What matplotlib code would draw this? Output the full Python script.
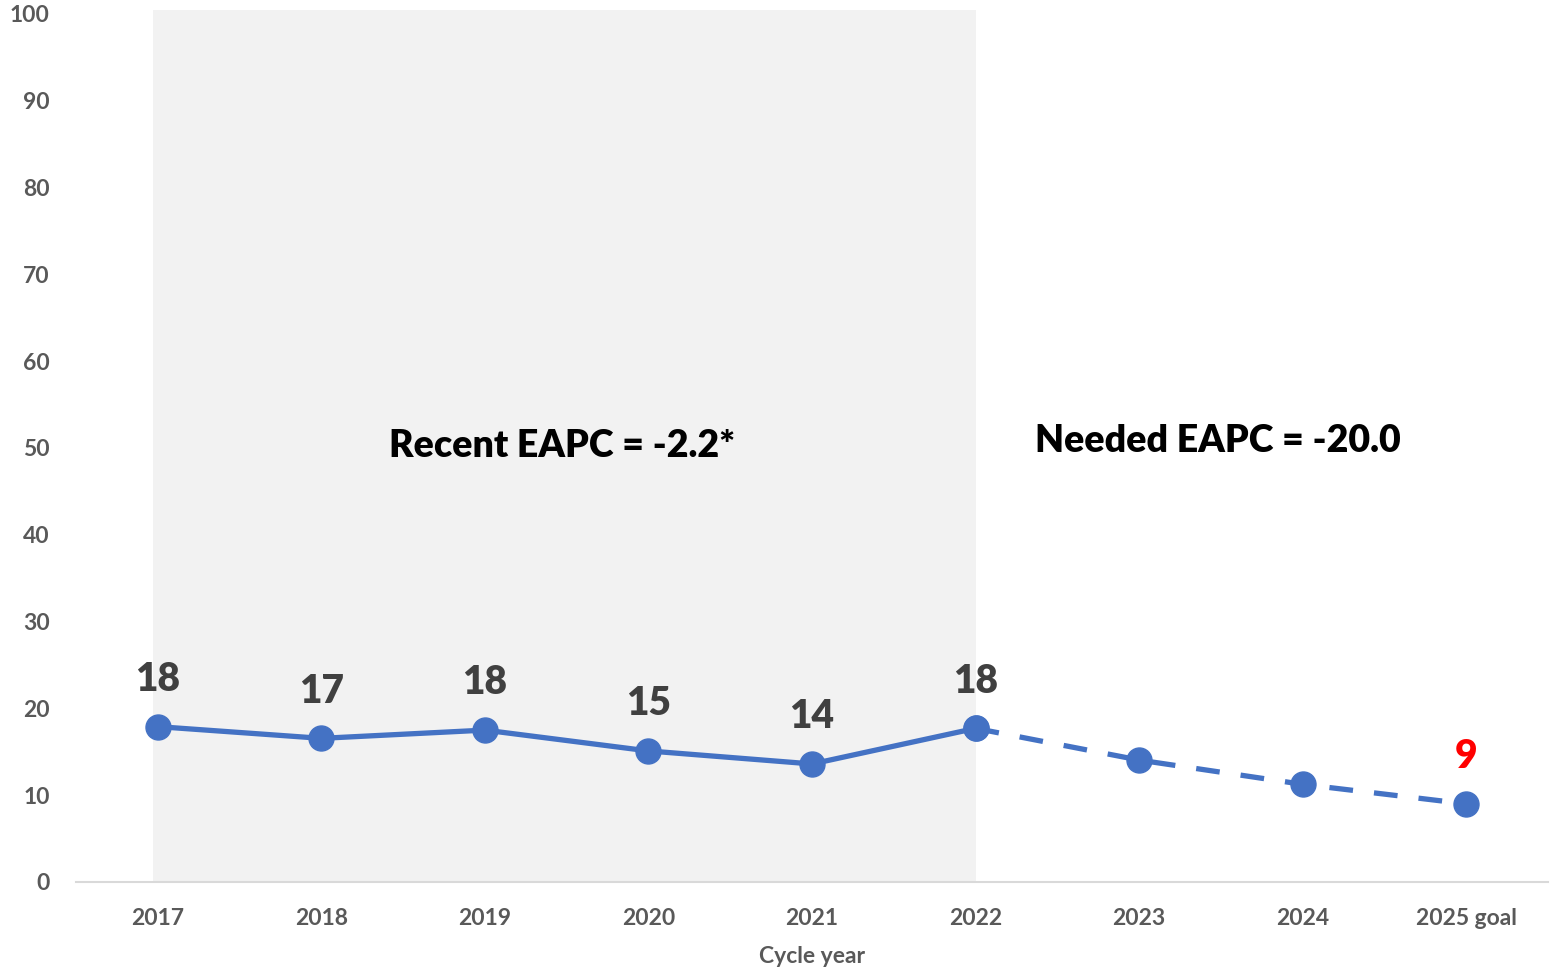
import matplotlib
matplotlib.use("Agg")
import matplotlib.pyplot as plt

plt.rcParams['font.family'] = ['Lato', 'DejaVu Sans']

years = ['2017', '2018', '2019', '2020', '2021', '2022', '2023', '2024', '2025 goal']
observed = [17.9, 16.55, 17.5, 15.1, 13.6, 17.7]
observed_labels = ['18', '17', '18', '15', '14', '18']
projected = [17.7, 14.05, 11.25, 9.0]
goal_label = '9'
recent_text = 'Recent EAPC = -2.2*'
needed_text = 'Needed EAPC = -20.0'

blue = '#4472C4'
grey_txt = '#595959'

fig = plt.figure(figsize=(15.52, 9.68), dpi=100)
ax = fig.add_axes([76 / 1552, 86 / 968, 1472 / 1552, 868 / 968])

x_obs = list(range(len(observed)))
x_proj = list(range(len(observed) - 1, len(years)))

# shaded "recent" period
ax.axvspan(-0.03, 5, ymin=0, ymax=1.005, color='#f2f2f2', zorder=0, clip_on=False, lw=0)

ax.plot(x_obs, observed, color=blue, lw=3.8, marker='o', ms=18, zorder=3)
ax.plot(x_proj, projected, color=blue, lw=3.8, ls=(0, (4.5, 4)), marker='o', ms=18,
        zorder=3, dash_capstyle='butt')

for x, y, lab in zip(x_obs, observed, observed_labels):
    ax.annotate(lab, (x, y), xytext=(0, 34), textcoords='offset points',
                ha='center', va='center', fontsize=28, fontweight='heavy', color='#404040')
ax.annotate(goal_label, (x_proj[-1], projected[-1]), xytext=(0, 34), textcoords='offset points',
            ha='center', va='center', fontsize=28, fontweight='heavy', color='#ff0000')

ax.text(2.47, 50.2, recent_text, ha='center', va='center', fontsize=27,
        fontweight='heavy', color='black')
ax.text(6.48, 50.8, needed_text, ha='center', va='center', fontsize=27,
        fontweight='heavy', color='black')

ax.set_xlim(-0.5, len(years) - 0.5)
ax.set_ylim(0, 100)
ax.set_xticks(range(len(years)))
ax.set_xticklabels(years)
ax.set_yticks(range(0, 101, 10))
ax.tick_params(axis='both', length=0, labelsize=16.5, labelcolor=grey_txt)
ax.tick_params(axis='y', pad=19)
ax.tick_params(axis='x', pad=19)
for lab in ax.get_xticklabels() + ax.get_yticklabels():
    lab.set_fontweight('bold')

for s in ['top', 'right', 'left']:
    ax.spines[s].set_visible(False)
ax.spines['bottom'].set_color('#d9d9d9')
ax.spines['bottom'].set_linewidth(1.5)

ax.set_xlabel('Cycle year', fontsize=16.5, fontweight='bold', color=grey_txt, labelpad=12)

fig.savefig('out.png', dpi=100)
